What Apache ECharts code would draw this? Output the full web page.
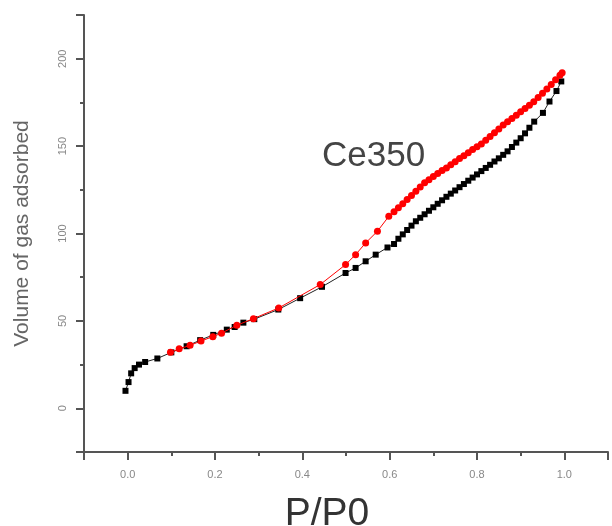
<!DOCTYPE html>
<html>
<head>
<meta charset="utf-8">
<title>Ce350</title>
<script src="https://cdn.jsdelivr.net/npm/echarts/dist/echarts.min.js"></script>
<style>
  html, body { margin: 0; padding: 0; background: #fff; }
  #chart { width: 612px; height: 526px; }
</style>
</head>
<body>
<div id="chart"></div>
<script>
// adsorption branch (black)
var adsP = [-0.005, 0.002, 0.008, 0.016, 0.026, 0.04, 0.068, 0.1, 0.135, 0.166, 0.196, 0.227, 0.245, 0.265, 0.29,
  0.345, 0.395, 0.445, 0.499, 0.522, 0.545, 0.568, 0.595, 0.61,
  0.62, 0.63, 0.64, 0.65, 0.66, 0.67, 0.68, 0.69, 0.7, 0.71, 0.72, 0.73, 0.74, 0.75, 0.76, 0.77, 0.78, 0.79,
  0.8, 0.81, 0.82, 0.83, 0.84, 0.85, 0.86, 0.87, 0.88, 0.89, 0.9, 0.91, 0.92,
  0.931, 0.951, 0.966, 0.982, 0.993];
var adsV = [10, 15, 20, 23, 25, 26.5, 28.5, 32, 35.5, 39, 42, 45, 46.5, 49, 51,
  56.5, 63, 69.5, 77.4, 80.3, 84.1, 87.9, 92, 94,
  97, 99.5, 102, 104.5, 107, 109, 111, 113, 115, 117, 119, 121, 122.8, 124.6, 126.5, 128.3, 130.2, 132,
  133.8, 135.7, 137.5, 139.3, 141.2, 143, 145, 147, 149.5, 152, 154.5, 157.3, 160.5,
  164, 169, 175.5, 181.5, 187];

// desorption branch (red)
var desP = [0.098, 0.118, 0.143, 0.168, 0.195, 0.215, 0.25, 0.288, 0.346, 0.441, 0.499, 0.522, 0.545, 0.572, 0.598,
  0.61, 0.62, 0.63, 0.64, 0.65, 0.66, 0.67, 0.68, 0.69, 0.7, 0.71, 0.72, 0.73, 0.74, 0.75, 0.76, 0.77, 0.78, 0.79,
  0.8, 0.81, 0.82, 0.83, 0.84, 0.85, 0.86, 0.87, 0.88, 0.89, 0.9, 0.91, 0.92, 0.93, 0.94, 0.95, 0.96, 0.97, 0.98, 0.99, 0.995];
var desV = [32, 34, 36, 38.5, 41, 43, 47.5, 51.3, 57.4, 70.8, 82.2, 87.9, 94.6, 101.3, 109.8,
  112.5, 114.8, 117, 119.4, 121.8, 124.2, 126.6, 129, 130.8, 132.6, 134.3, 136, 137.5, 139.3, 141.1, 142.9, 144.5, 146.2, 148,
  149.6, 151.2, 153.3, 155.5, 157.7, 159.8, 162, 164, 165.8, 167.7, 169.6, 171.5, 173.3, 175.4, 177.8, 180.2, 182.7, 185.3, 188, 190.5, 192];

var sampleName = "Ce350";

function pairs(xs, ys) {
  return xs.map(function (x, i) { return [x, ys[i]]; });
}

var chart = echarts.init(document.getElementById("chart"));

var axisGray = "#555";
var labelGray = "#888";

var option = {
  animation: false,
  backgroundColor: "#fff",
  textStyle: { fontFamily: "Liberation Sans, Arial, sans-serif" },
  grid: { left: 84, right: 4, top: 15, bottom: 74, outerBoundsMode: "none", containLabel: false },
  xAxis: {
    type: "value",
    min: -0.1,
    max: 1.1,
    splitNumber: 6,
    name: "P/P0",
    nameLocation: "middle",
    nameGap: 43,
    nameTextStyle: { fontSize: 39, color: "#333", padding: [0, 38, 0, 0] },
    axisLine: { onZero: false, lineStyle: { color: axisGray, width: 2 } },
    axisTick: { length: 8, lineStyle: { color: axisGray, width: 2 } },
    minorTick: { show: true, splitNumber: 2, length: 4, lineStyle: { color: axisGray, width: 2 } },
    axisLabel: {
      color: labelGray, fontSize: 11, margin: 17,
      showMinLabel: false, showMaxLabel: false,
      formatter: function (v) { return v.toFixed(1); }
    },
    splitLine: { show: false }
  },
  yAxis: {
    type: "value",
    min: -25,
    max: 225,
    splitNumber: 5,
    name: "Volume of gas adsorbed",
    nameLocation: "middle",
    nameGap: 51,
    nameTextStyle: { fontSize: 21, color: "#666" },
    axisLine: { onZero: false, lineStyle: { color: axisGray, width: 2 } },
    axisTick: { length: 8, lineStyle: { color: axisGray, width: 2 } },
    minorTick: { show: true, splitNumber: 2, length: 4, lineStyle: { color: axisGray, width: 2 } },
    axisLabel: {
      color: labelGray, fontSize: 11, margin: 16, rotate: 90,
      showMinLabel: false, showMaxLabel: false
    },
    splitLine: { show: false }
  },
  series: [
    {
      name: "adsorption",
      type: "line",
      data: pairs(adsP, adsV),
      symbol: "rect",
      symbolSize: 6,
      itemStyle: { color: "#000" },
      lineStyle: { color: "#222", width: 1 },
      z: 2
    },
    {
      name: "desorption",
      type: "line",
      data: pairs(desP, desV),
      symbol: "circle",
      symbolSize: 7,
      itemStyle: { color: "#f00" },
      lineStyle: { color: "#f00", width: 1 },
      z: 3
    }
  ],
  graphic: [
    {
      type: "text",
      left: 322,
      top: 139,
      style: { text: sampleName, fontSize: 35, fill: "#444", fontFamily: "Liberation Sans, Arial, sans-serif" }
    }
  ]
};

chart.setOption(option);
window.addEventListener("resize", function () {
  chart.resize();
});
</script>
</body>
</html>
